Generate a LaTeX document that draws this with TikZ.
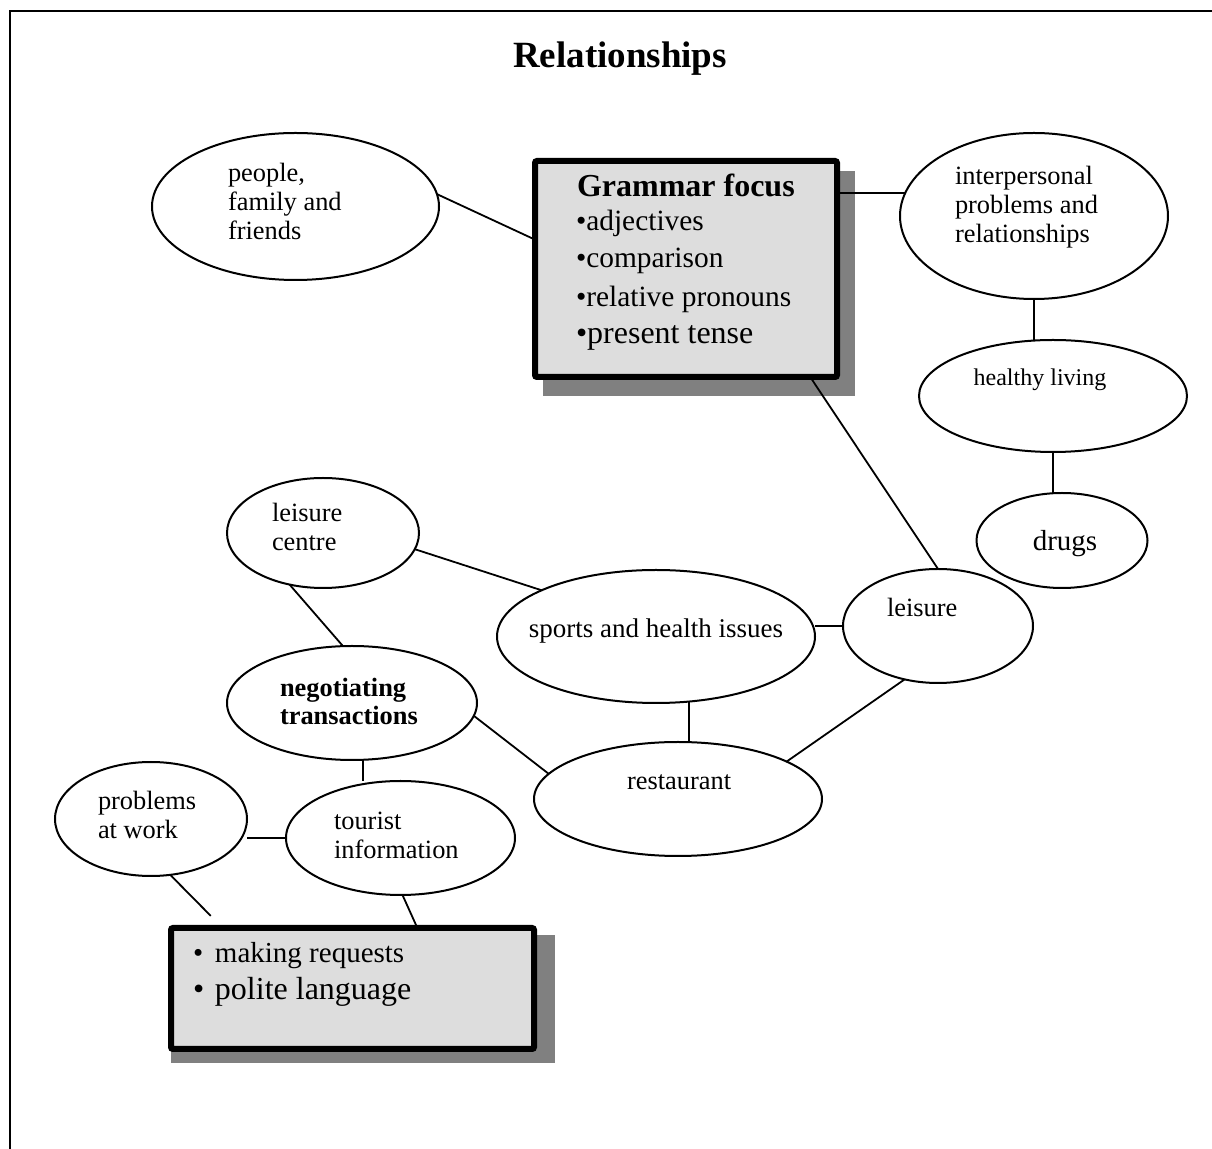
\documentclass[tikz,border=0pt]{standalone}
\usepackage{fontspec}
\setmainfont{Liberation Serif}
\usetikzlibrary{shapes.geometric}
\pgfdeclarelayer{background}
\pgfsetlayers{background,main}
\definecolor{boxgray}{HTML}{DDDDDD}
\definecolor{shadowgray}{HTML}{808080}
\tikzset{
  ell/.style={ellipse, draw, line width=1pt, inner sep=0pt, outer sep=0pt},
  txt/.style={inner sep=0pt, outer sep=0pt, align=left, anchor=base west, font=\fontsize{13.2}{14.5}\selectfont},
  ctxt/.style={inner sep=0pt, outer sep=0pt, anchor=base},
  conn/.style={line width=0.9pt},
  gbox/.style={draw, line width=3pt, fill=boxgray, rounded corners=1pt, inner sep=0pt, outer sep=0pt},
  shadowfill/.style={fill=shadowgray},
  frameline/.style={line width=1.25pt}
}
\begin{document}
\begin{tikzpicture}[x=0.5pt, y=-0.5pt]
\useasboundingbox (0,0) rectangle (1212,1149);
% frame
\coordinate (fbl) at (10,1160);
\coordinate (ftl) at (10,11);
\coordinate (ftr) at (1220,11);
\draw[frameline] (fbl) -- (ftl) -- (ftr);

% title
\node[ctxt, font=\fontsize{18.5}{22}\selectfont\bfseries] (title) at (620,68) {Relationships};

% boxes
\node[gbox, minimum width=151pt, minimum height=108pt] (gf) at (686,269) {};
\node[gbox, minimum width=181.5pt, minimum height=60.5pt] (rq) at (352.5,988.5) {};
\begin{pgfonlayer}{background}
  \fill[shadowfill] ([shift={(8,10)}]gf.north west) rectangle ([shift={(18,19)}]gf.south east);
  \fill[shadowfill] ([shift={(0,7)}]rq.north west) rectangle ([shift={(21,14)}]rq.south east);
\end{pgfonlayer}

% grammar box text
\node[txt, font=\fontsize{16}{19}\selectfont\bfseries] (g1) at (577,197) {Grammar focus};
\node[txt, font=\fontsize{14.7}{17}\selectfont] (g2) at (576,231) {•adjectives};
\node[txt, font=\fontsize{14.7}{17}\selectfont] (g3) at (576,268) {•comparison};
\node[txt, font=\fontsize{14.7}{17}\selectfont] (g4) at (576,307) {•relative pronouns};
\node[txt, font=\fontsize{16}{19}\selectfont] (g5) at (576,344) {•present tense};

% bottom box text
\node[txt, font=\fontsize{14.5}{17}\selectfont] (b1) at (193,963) {\makebox[11pt][l]{•}making requests};
\node[txt, font=\fontsize{16}{19}\selectfont] (b2) at (193,1000) {\makebox[11pt][l]{•}polite language};

% ellipses
\node[ell, minimum width=143.5pt, minimum height=73.5pt] (pf) at (295.5,206.5) {};
\node[ell, minimum width=134pt, minimum height=83pt] (ip) at (1034,216) {};
\node[ell, minimum width=134pt, minimum height=56pt] (hl) at (1053,396) {};
\node[ell, minimum width=85.5pt, minimum height=47.5pt] (dr) at (1062,540.5) {};
\node[ell, minimum width=96pt, minimum height=55pt] (lc) at (323,533) {};
\node[ell, minimum width=159pt, minimum height=66.5pt] (sp) at (656,636.5) {};
\node[ell, minimum width=95pt, minimum height=57pt] (le) at (938,626) {};
\node[ell, minimum width=125pt, minimum height=57pt] (ng) at (352,703) {};
\node[ell, minimum width=144pt, minimum height=57pt] (re) at (678,799) {};
\node[ell, minimum width=96pt, minimum height=57pt] (pw) at (151,819) {};
\node[ell, minimum width=114.5pt, minimum height=57pt] (ti) at (400.5,838) {};

% ellipse texts (multi-line nodes: base = baseline of the last line)
\node[txt] (pft) at (228,240) {people,\\family and\\friends};
\node[txt] (ipt) at (955,243) {interpersonal\\problems and\\relationships};
\node[ctxt, font=\fontsize{12}{14}\selectfont] (hlt) at (1040,386) {healthy living};
\node[ctxt, font=\fontsize{14.5}{17}\selectfont] (drt) at (1065,551) {drugs};
\node[txt] (lct) at (272,551) {leisure\\centre};
\node[ctxt, font=\fontsize{13.5}{16}\selectfont] (spt) at (656,638) {sports and health issues};
\node[txt] (let) at (887,617) {leisure};
\node[txt, font=\fontsize{13.2}{14}\selectfont\bfseries] (ngt) at (280,725) {negotiating\\transactions};
\node[txt] (ret) at (627,790) {restaurant};
\node[txt] (pwt) at (98,839) {problems\\at work};
\node[txt] (tit) at (334,859) {tourist\\information};

% connectors
\draw[conn] (pf.5) -- (gf.169.3);
\draw[conn] (ip.170) -- (ip.170 -| gf.east);
\draw[conn] (gf.-41.8) -- (le.north);
\draw[conn] (ip.south) -- (ip.south |- hl.north);
\draw[conn] (hl.south) -- (hl.south |- dr.north);
\draw[conn] (lc.-10.5) -- (sp.158.6);
\draw[conn] (lc.-123.5) -- (ng.99);
\draw[conn] (le.west) -- (le.west -| sp.east);
\draw[conn] (sp.-63.3) -- (sp.-63.3 |- re.north);
\draw[conn] (le.-122) -- (re.19.2);
\draw[conn] (ng.-6.5) -- (re.169.5);
\draw[conn] (ng.-79) -- (ng.-79 |- ti.north);
\draw[conn] (ti.west) -- (ti.west -| pw.east);
\draw[conn, shorten >=8.5pt] (pw.-71.3) -- (rq.155.3);
\draw[conn] (ti.-88) -- (rq.43.2);
\end{tikzpicture}
\end{document}
